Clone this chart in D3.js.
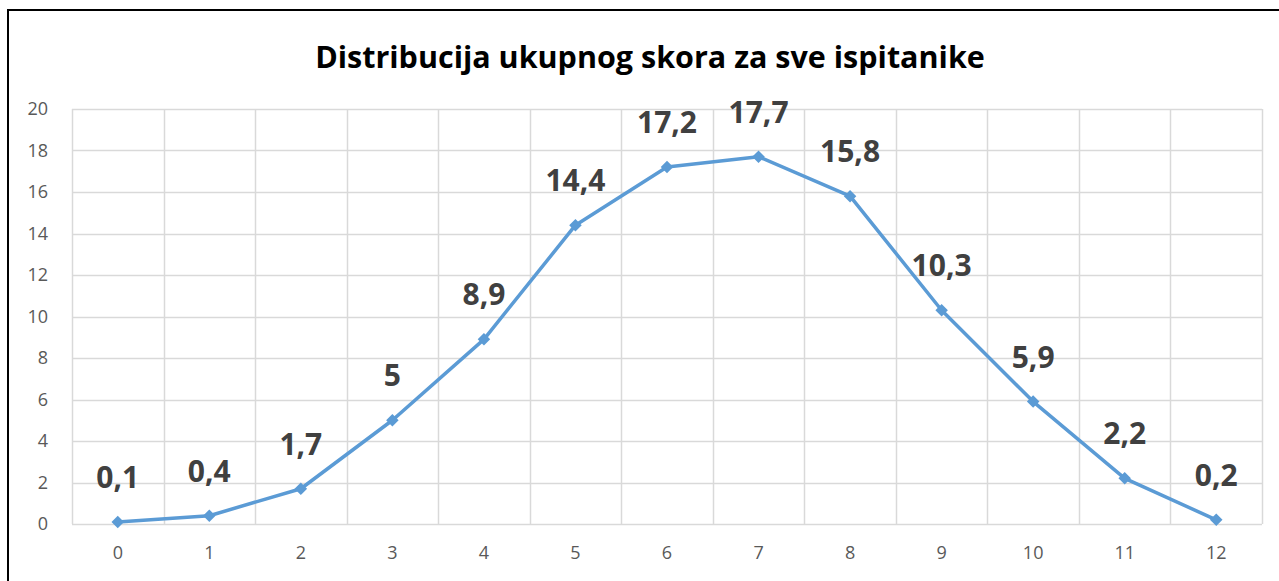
<!DOCTYPE html>
<html>
<head>
<meta charset="utf-8">
<script src="https://cdn.jsdelivr.net/npm/d3@7"></script>
<style>
  body { margin: 0; background: #fff; }
  text { font-family: "Open Sans", "Liberation Sans", sans-serif; }
</style>
</head>
<body>
<svg id="chart"></svg>
<script>
// data
const scores = [0, 1, 2, 3, 4, 5, 6, 7, 8, 9, 10, 11, 12];
const percents = [0.1, 0.4, 1.7, 5, 8.9, 14.4, 17.2, 17.7, 15.8, 10.3, 5.9, 2.2, 0.2];
const yTicks = [0, 2, 4, 6, 8, 10, 12, 14, 16, 18, 20];
const chartTitle = "Distribucija ukupnog skora za sve ispitanike";

const config = {
  width: 1279,
  height: 581,
  margin: {top: 109, right: 17, bottom: 57, left: 72}
};
const width = config.width - config.margin.left - config.margin.right;
const height = config.height - config.margin.top - config.margin.bottom;

const svg = d3.select('#chart')
  .attr('width', config.width)
  .attr('height', config.height);

// outer frame (runs off the right and bottom like the screenshot)
svg.append('rect')
  .attr('x', 8)
  .attr('y', 10)
  .attr('width', config.width + 10)
  .attr('height', config.height + 10)
  .attr('fill', 'none')
  .attr('stroke', '#000')
  .attr('stroke-width', 2);

svg.append('text')
  .attr('x', 650)
  .attr('y', 68)
  .attr('text-anchor', 'middle')
  .style('font-size', '30.5px')
  .style('font-weight', 'bold')
  .attr('fill', '#000')
  .text(chartTitle);

const chart = svg.append('g')
  .attr('transform', `translate(${config.margin.left},${config.margin.top})`);

const xScale = d3.scaleBand().domain(scores).range([0, width]).padding(0);
const yScale = d3.scaleLinear().domain([0, 20]).range([height, 0]);

// gridlines
chart.append('g')
  .selectAll('line')
  .data(yTicks)
  .join('line')
  .attr('x1', 0)
  .attr('x2', width)
  .attr('y1', d => Math.round(yScale(d)) + 0.5)
  .attr('y2', d => Math.round(yScale(d)) + 0.5)
  .attr('stroke', '#d9d9d9')
  .attr('stroke-width', 1.5);

const bounds = scores.map(d => xScale(d)).concat([width]);
chart.append('g')
  .selectAll('line')
  .data(bounds)
  .join('line')
  .attr('x1', d => Math.round(d) + 0.5)
  .attr('x2', d => Math.round(d) + 0.5)
  .attr('y1', 0)
  .attr('y2', height)
  .attr('stroke', '#d9d9d9')
  .attr('stroke-width', 1.5);

// axes
const yAxis = d3.axisLeft(yScale).tickValues(yTicks).tickSize(0).tickPadding(24);
const yAxisG = chart.append('g').call(yAxis);
yAxisG.select('.domain').remove();
yAxisG.selectAll('text')
  .style('font-size', '18px')
  .attr('fill', '#595959');

const xAxis = d3.axisBottom(xScale).tickSize(0).tickPadding(22);
const xAxisG = chart.append('g')
  .attr('transform', `translate(0,${height})`)
  .call(xAxis);
xAxisG.select('.domain').remove();
xAxisG.selectAll('text')
  .style('font-size', '18px')
  .attr('fill', '#595959');

// line + markers
const cx = d => xScale(d) + xScale.bandwidth() / 2;
const points = scores.map((s, i) => ({score: s, value: percents[i]}));

const line = d3.line()
  .x(d => cx(d.score))
  .y(d => yScale(d.value));

chart.append('path')
  .datum(points)
  .attr('d', line)
  .attr('fill', 'none')
  .attr('stroke', '#5b9bd5')
  .attr('stroke-width', 3.5)
  .attr('stroke-linejoin', 'round');

chart.selectAll('.marker')
  .data(points)
  .join('path')
  .attr('class', 'marker')
  .attr('d', d3.symbol(d3.symbolDiamond2, 100))
  .attr('transform', d => `translate(${cx(d.score)},${yScale(d.value)})`)
  .attr('fill', '#5b9bd5');

// data labels
chart.selectAll('.label')
  .data(points)
  .join('text')
  .attr('class', 'label')
  .attr('x', d => cx(d.score))
  .attr('y', d => yScale(d.value) - 34)
  .attr('text-anchor', 'middle')
  .style('font-size', '30px')
  .style('font-weight', 'bold')
  .attr('fill', '#404040')
  .text(d => String(d.value).replace('.', ','));
</script>
</body>
</html>
